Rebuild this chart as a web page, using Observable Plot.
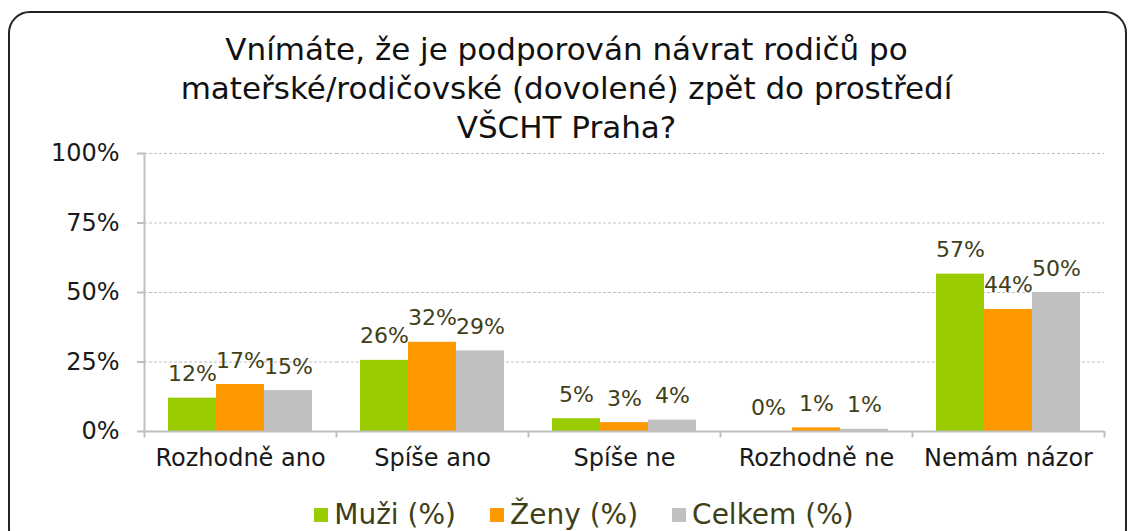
<!DOCTYPE html>
<html>
<head>
<meta charset="utf-8">
<script src="https://cdn.jsdelivr.net/npm/d3@7"></script>
<script src="https://cdn.jsdelivr.net/npm/@observablehq/plot@0.6"></script>
<style>
  html, body { margin: 0; padding: 0; background: #fff; width: 1130px; height: 531px; overflow: hidden; }
  body { position: relative; font-family: "DejaVu Sans", Verdana, sans-serif; }
  #box { position: absolute; left: 8px; top: 11px; width: 1119px; height: 540px; border: 2px solid #222; border-radius: 22px; box-sizing: border-box; }
  #title { position: absolute; left: 8px; width: 1117px; top: 30px; text-align: center; font-size: 31px; line-height: 39px; color: #111; }
  #chart { position: absolute; left: 0; top: 140px; }
  #legend { position: absolute; left: 19px; width: 1130px; top: 498px; text-align: center; font-size: 28px; color: #404018; white-space: nowrap; }
  #legend span.item { display: inline-block; margin: 0 17px; }
  #legend span.sw { display: inline-block; width: 14px; height: 14px; margin-right: 6px; vertical-align: 2px; }
</style>
</head>
<body>
<div id="box"></div>
<div id="title">Vnímáte, že je podporován návrat rodičů po<br>mateřské/rodičovské (dovolené) zpět do prostředí<br>VŠCHT Praha?</div>
<div id="chart"></div>
<div id="legend"></div>
<script>
const categories = ["Rozhodně ano", "Spíše ano", "Spíše ne", "Rozhodně ne", "Nemám názor"];
const series = ["Muži (%)", "Ženy (%)", "Celkem (%)"];
const muzi = [12, 25.6, 4.6, 0, 56.6];
const zeny = [16.9, 32.1, 3.2, 1.3, 43.9];
const celkem = [14.7, 29, 4.1, 0.8, 50];
const colors = ["#99cc00", "#ff9900", "#c0c0c0"];
const yTicks = [0, 25, 50, 75, 100];

const values = [muzi, zeny, celkem];
const rows = [];
categories.forEach((c, i) => series.forEach((s, j) => rows.push({cat: c, series: s, value: values[j][i]})));

const axisColor = "#bfbfbf";
const chart = Plot.plot({
  width: 1130,
  height: 340,
  marginTop: 13,
  marginBottom: 49,
  marginLeft: 144,
  marginRight: 26,
  style: {fontFamily: "DejaVu Sans, Verdana, sans-serif", fontSize: "24px", color: "#1a1a1a", background: "transparent", overflow: "visible"},
  fx: {domain: categories, padding: 0, label: null, axis: null},
  x: {domain: series, paddingInner: 0, paddingOuter: 0.5, axis: null},
  y: {domain: [0, 100], label: null},
  color: {domain: series, range: colors},
  marks: [
    Plot.gridY(yTicks, {stroke: axisColor, strokeOpacity: 1, strokeDasharray: "3,2"}),
    Plot.axisY(yTicks, {tickFormat: d => d + "%", tickSize: 7, tickPadding: 18, stroke: axisColor, strokeWidth: 2, fontSize: 24, label: null}),
    Plot.axisFx({anchor: "bottom", tickSize: 0, tickPadding: 17, fontSize: 24, label: null}),
    Plot.frame({anchor: "left", facetAnchor: "left", stroke: axisColor, strokeWidth: 2}),
    Plot.barY(rows, {fx: "cat", x: "series", y: "value", fill: "series", inset: 0}),
    Plot.ruleY([0], {stroke: axisColor, strokeWidth: 2}),
    Plot.ruleX([series[0]], {x: d => d, dx: -48, y1: 0, y2: -2.3, stroke: axisColor, strokeWidth: 2}),
    Plot.ruleX([series[2]], {x: d => d, dx: 48, y1: 0, y2: -2.3, stroke: axisColor, strokeWidth: 2, facetAnchor: "right"}),
    Plot.text(rows, {fx: "cat", x: "series", y: "value", text: d => Math.round(d.value) + "%", lineAnchor: "bottom", dy: -17, fill: "#404018", fontSize: 22})
  ]
});
document.getElementById("chart").appendChild(chart);

const legend = document.getElementById("legend");
series.forEach((s, i) => {
  const item = document.createElement("span");
  item.className = "item";
  const sw = document.createElement("span");
  sw.className = "sw";
  sw.style.background = colors[i];
  item.appendChild(sw);
  item.appendChild(document.createTextNode(s));
  legend.appendChild(item);
});
</script>
</body>
</html>
